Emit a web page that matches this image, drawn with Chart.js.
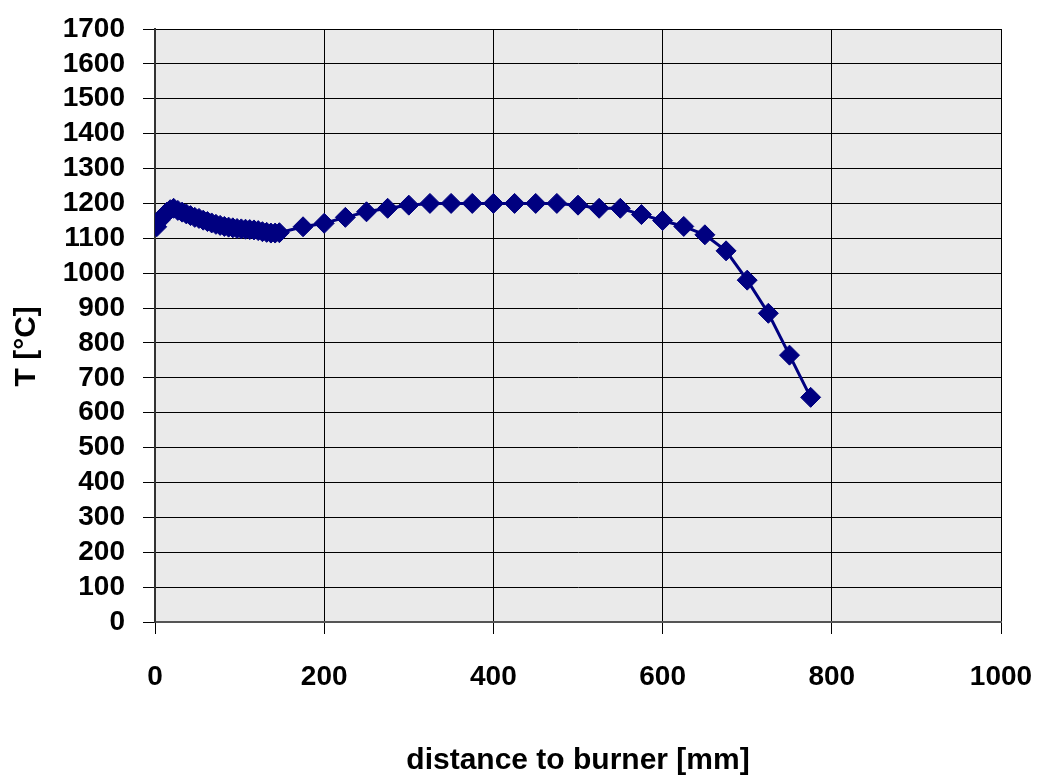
<!DOCTYPE html>
<html>
<head>
<meta charset="utf-8">
<script src="https://cdn.jsdelivr.net/npm/chart.js@4.4.0/dist/chart.umd.min.js"></script>
<style>
    body { margin: 0; background: #ffffff; }
    #wrap { width: 1039px; height: 779px; }
</style>
</head>
<body>
<div id="wrap"><canvas id="myChart" width="1039" height="779"></canvas></div>
<script>
// Distances measured from the burner [mm]
let distances = [2, 6, 10, 14, 18, 22, 27, 32, 37, 42, 47, 52, 57, 62, 67, 72, 77, 82, 87, 92,
    97, 102, 107, 112, 117, 122, 127, 132, 137, 142, 147,
    175, 200, 225, 250, 275, 300, 325, 350, 375, 400, 425, 450, 475, 500, 525, 550, 575,
    600, 625, 650, 675, 700, 725, 750, 775];

// Temperatures read at each distance [°C]
let temperatures = [1133, 1152, 1165, 1175, 1182, 1186, 1180, 1175, 1170, 1165, 1160, 1157, 1152, 1148, 1144, 1140,
    1137, 1134, 1132, 1130, 1128, 1127, 1126, 1125, 1124, 1122, 1119, 1117, 1115, 1115, 1116,
    1133, 1143, 1160, 1176, 1186, 1195, 1200, 1200, 1200, 1200, 1200, 1200, 1200, 1195, 1186, 1186, 1168,
    1151, 1134, 1110, 1064, 980, 885, 765, 644];

// Axis settings
let xTicks = [0, 200, 400, 600, 800, 1000];
let yTicks = [0, 100, 200, 300, 400, 500, 600, 700, 800, 900, 1000, 1100, 1200, 1300, 1400, 1500, 1600, 1700];

let xTitle = "distance to burner [mm]";
// trailing spaces push the rotated title a little lower, like the original
let yTitle = "T [°C]     ";

// Build the point list for the scatter line
let points = distances.map((d, i) => ({ x: d, y: temperatures[i] }));

let labelFont = { family: "'Liberation Sans', Arial, sans-serif", size: 28, weight: "bold" };
let titleFont = { family: "'Liberation Sans', Arial, sans-serif", size: 30, weight: "bold" };

// Grey plot background
let plotBackground = {
    id: "plotBackground",
    beforeDraw: (chart) => {
        let ctx = chart.ctx;
        let a = chart.chartArea;
        ctx.save();
        ctx.fillStyle = "#eaeaea";
        ctx.fillRect(a.left, a.top, a.right - a.left, a.bottom - a.top);
        ctx.restore();
    }
};

// Plain numbers, no thousands separator
let plainLabel = (value) => String(value);

const ctx = document.getElementById("myChart").getContext("2d");
let myChart = new Chart(ctx, {
    type: "scatter",
    data: {
        datasets: [{
            data: points,
            showLine: true,
            borderColor: "#000080",
            backgroundColor: "#000080",
            borderWidth: 3,
            pointStyle: "rectRot",
            pointRadius: 10,
            pointBorderWidth: 1,
            tension: 0
        }]
    },
    options: {
        responsive: false,
        animation: false,
        layout: { padding: { top: 29, right: 38, left: 0, bottom: 0 } },
        plugins: {
            legend: { display: false },
            tooltip: { enabled: false }
        },
        scales: {
            x: {
                type: "linear",
                min: 0,
                max: 1000,
                afterBuildTicks: (scale) => { scale.ticks = xTicks.map(v => ({ value: v })); },
                afterFit: (scale) => {
                    scale.height = 157;
                    scale.paddingLeft = 0;
                    scale.paddingRight = 0;
                },
                ticks: { color: "#000", font: labelFont, padding: 26, maxRotation: 0, autoSkip: false, callback: plainLabel },
                grid: { color: "#000", lineWidth: 1, tickLength: 12, tickColor: "#000" },
                border: { color: "#555", width: 2 },
                title: { display: true, text: xTitle, color: "#000", font: titleFont, padding: { top: 0, bottom: 0 } }
            },
            y: {
                type: "linear",
                min: 0,
                max: 1700,
                afterBuildTicks: (scale) => { scale.ticks = yTicks.map(v => ({ value: v })); },
                afterFit: (scale) => {
                    scale.width = 155;
                    scale.paddingTop = 0;
                    scale.paddingBottom = 0;
                },
                ticks: { color: "#000", font: labelFont, padding: 18, autoSkip: false, callback: plainLabel },
                grid: { color: "#000", lineWidth: 1, tickLength: 12, tickColor: "#000" },
                border: { color: "#333", width: 2 },
                title: { display: true, text: yTitle, color: "#000", font: titleFont, padding: { top: 9, bottom: 0 } }
            }
        }
    },
    plugins: [plotBackground]
});
</script>
</body>
</html>
